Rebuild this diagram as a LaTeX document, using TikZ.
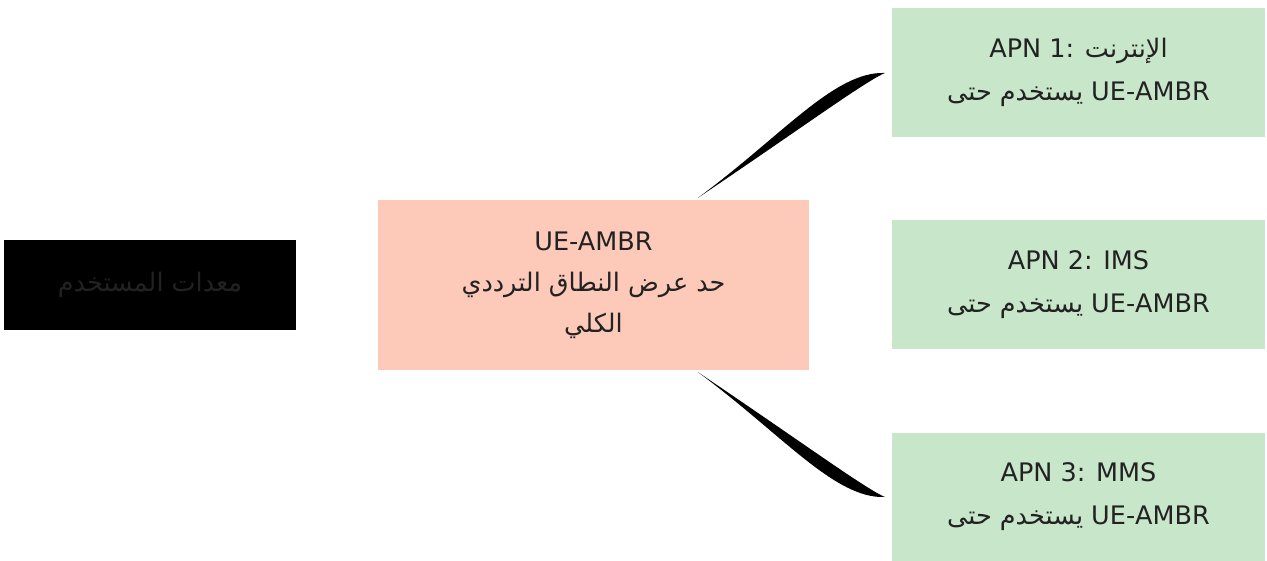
\documentclass[tikz,border=0pt]{standalone}
\usepackage{fontspec}
\setmainfont{DejaVu Sans}
\newfontfamily\arabicfont[Script=Arabic]{DejaVu Sans}
\TeXXeTstate=1
\usetikzlibrary{calc}
\definecolor{txt}{HTML}{222222}
\definecolor{salmonfill}{HTML}{FDCABA}
\definecolor{mintfill}{HTML}{C8E6CA}
\newcommand{\ar}[1]{{\arabicfont\beginR #1\endR}}
\tikzset{
  box/.style={rectangle, draw=none, align=center, text=txt, inner sep=0pt,
    font=\fontsize{25.5}{43}\selectfont},
  uebox/.style={box, fill=black, minimum width=292pt, minimum height=90pt},
  ambrbox/.style={box, fill=salmonfill, minimum width=431pt, minimum height=170pt,
    font=\fontsize{25.5}{41}\selectfont},
  apnbox/.style={box, fill=mintfill, minimum width=373pt, minimum height=129pt},
  taper/.style={fill=black, draw=none}
}
\begin{document}
\begin{tikzpicture}[x=1pt,y=-1pt]
\useasboundingbox (0,0) rectangle (1267,561);
\node[uebox] (ue) at (150,285) {\ar{معدات المستخدم}};
\node[ambrbox] (ambr) at (593.5,285) {UE-AMBR\\ \ar{حد عرض النطاق الترددي}\\ \ar{الكلي}};
\node[apnbox] (apn1) at (1078.5,72.5) {APN 1: \ar{الإنترنت}\\ {\arabicfont\beginR\beginL UE-AMBR\endL{} يستخدم حتى\endR}};
\node[apnbox] (apn2) at (1078.5,285) {APN 2: IMS\\ {\arabicfont\beginR\beginL UE-AMBR\endL{} يستخدم حتى\endR}};
\node[apnbox] (apn3) at (1078.5,497) {APN 3: MMS\\ {\arabicfont\beginR\beginL UE-AMBR\endL{} يستخدم حتى\endR}};
\coordinate (s1) at ($(ambr.north)+(104.5,-2)$);
\coordinate (e1) at ($(apn1.west)+(-7,0.5)$);
\coordinate (s3) at ($(ambr.south)+(104.5,2)$);
\coordinate (e3) at ($(apn3.west)+(-7,0)$);
\fill[taper] (s1) .. controls +(84,-62) and +(-50,-2) .. (e1)
  .. controls +(-22,10) and +(104,-70) .. (s1) -- cycle;
\fill[taper] (s3) .. controls +(84,62) and +(-50,2) .. (e3)
  .. controls +(-22,-10) and +(104,70) .. (s3) -- cycle;
\end{tikzpicture}
\end{document}
